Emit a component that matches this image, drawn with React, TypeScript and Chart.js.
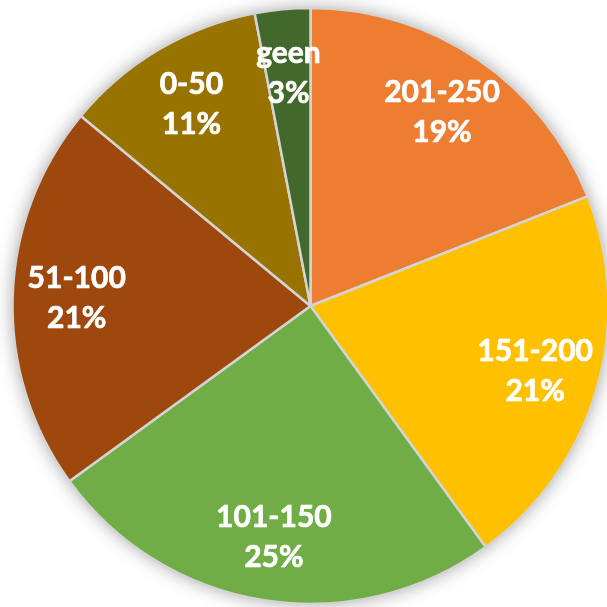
import React, { useEffect, useRef } from "react";
import { Chart, registerables } from "chart.js";

Chart.register(...registerables);

const categories = ["201-250", "151-200", "101-150", "51-100", "0-50", "geen"];
const values = [19, 21, 25, 21, 11, 3];
const colors = ["#ED7D31", "#FFC000", "#70AD47", "#9E480E", "#997300", "#43682B"];

const shadowPlugin = {
  id: "pieShadow",
  beforeDatasetsDraw(chart: any) {
    const meta = chart.getDatasetMeta(0);
    const arc = meta.data[0];
    if (!arc) return;
    const { x, y, outerRadius } = arc.getProps(["x", "y", "outerRadius"], true);
    const ctx = chart.ctx;
    ctx.save();
    ctx.shadowColor = "rgba(0,0,0,0.35)";
    ctx.shadowBlur = 18;
    ctx.fillStyle = "#ffffff";
    ctx.beginPath();
    ctx.arc(x, y, outerRadius, 0, Math.PI * 2);
    ctx.fill();
    ctx.restore();
  },
};

const labelPlugin = {
  id: "pieLabels",
  afterDatasetsDraw(chart: any) {
    const meta = chart.getDatasetMeta(0);
    const data = chart.data.datasets[0].data as number[];
    const total = data.reduce((a, b) => a + b, 0);
    const ctx = chart.ctx;
    ctx.save();
    ctx.fillStyle = "#ffffff";
    ctx.strokeStyle = "#ffffff";
    ctx.lineWidth = 0.7;
    ctx.lineJoin = "round";
    ctx.font = "bold 30px Lato";
    ctx.textAlign = "center";
    ctx.textBaseline = "middle";
    meta.data.forEach((arc: any, i: number) => {
      const { x, y, startAngle, endAngle, outerRadius } = arc.getProps(
        ["x", "y", "startAngle", "endAngle", "outerRadius"],
        true
      );
      const mid = (startAngle + endAngle) / 2;
      const r = outerRadius * 0.785;
      const cx = x + Math.cos(mid) * r;
      const cy = y + Math.sin(mid) * r;
      const pct = Math.round((data[i] / total) * 100) + "%";
      const l1 = String(chart.data.labels[i]);
      ctx.fillText(l1, cx, cy - 20);
      ctx.strokeText(l1, cx, cy - 20);
      ctx.fillText(pct, cx, cy + 20);
      ctx.strokeText(pct, cx, cy + 20);
    });
    ctx.restore();
  },
};

export default function App() {
  const ref = useRef<HTMLCanvasElement>(null);
  useEffect(() => {
    if (!ref.current) return;
    const chart = new Chart(ref.current, {
      type: "pie",
      data: {
        labels: categories,
        datasets: [
          {
            data: values,
            backgroundColor: colors,
            borderColor: "#D4D4D4",
            borderWidth: 2.5,
            radius: 298,
          } as any,
        ],
      },
      options: {
        animation: false,
        responsive: true,
        maintainAspectRatio: false,
        layout: { padding: 0 },
        plugins: {
          legend: { display: false },
          tooltip: { enabled: false },
        },
      },
      plugins: [shadowPlugin, labelPlugin],
    });
    return () => chart.destroy();
  }, []);
  return (
    <div
      style={{
        position: "fixed",
        left: 0,
        top: 0,
        width: 607,
        height: 607,
        overflow: "hidden",
        background: "#ffffff",
      }}
    >
      <div style={{ position: "relative", width: 621, height: 612 }}>
        <canvas ref={ref} />
      </div>
    </div>
  );
}
